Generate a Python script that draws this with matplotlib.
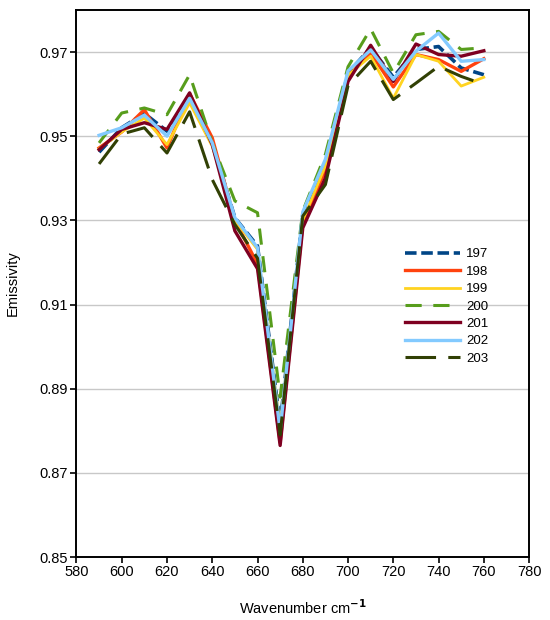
import matplotlib
matplotlib.use("Agg")
import matplotlib.pyplot as plt

plt.rcParams['font.family'] = ['Liberation Sans', 'DejaVu Sans']

# wavenumbers (cm-1)
wavenumber = [590, 600, 610, 620, 630, 640, 650, 660, 670,
              680, 690, 700, 710, 720, 730, 740, 750, 760]

# emissivity per sample
e197 = [0.9462, 0.9520, 0.9554, 0.9512, 0.9591, 0.9484, 0.9306, 0.9239, 0.8815,
        0.9314, 0.9429, 0.9650, 0.9710, 0.9640, 0.9706, 0.9713, 0.9662, 0.9646]
e198 = [0.9472, 0.9510, 0.9563, 0.9472, 0.9601, 0.9496, 0.9300, 0.9196, 0.8772,
        0.9294, 0.9420, 0.9642, 0.9698, 0.9617, 0.9694, 0.9682, 0.9654, 0.9684]
e199 = [0.9470, 0.9510, 0.9543, 0.9480, 0.9579, 0.9476, 0.9300, 0.9231, 0.8810,
        0.9300, 0.9430, 0.9645, 0.9690, 0.9590, 0.9694, 0.9678, 0.9619, 0.9640]
e200 = [0.9484, 0.9555, 0.9567, 0.9551, 0.9646, 0.9484, 0.9346, 0.9318, 0.8880,
        0.9322, 0.9457, 0.9665, 0.9755, 0.9650, 0.9741, 0.9749, 0.9706, 0.9710]
e201 = [0.9468, 0.9516, 0.9532, 0.9516, 0.9603, 0.9480, 0.9275, 0.9185, 0.8765,
        0.9282, 0.9401, 0.9630, 0.9716, 0.9630, 0.9719, 0.9694, 0.9690, 0.9703]
e202 = [0.9502, 0.9520, 0.9550, 0.9500, 0.9590, 0.9484, 0.9306, 0.9235, 0.8800,
        0.9320, 0.9445, 0.9655, 0.9705, 0.9635, 0.9702, 0.9745, 0.9678, 0.9682]
e203 = [0.9434, 0.9505, 0.9520, 0.9460, 0.9558, 0.9397, 0.9290, 0.9210, 0.8790,
        0.9310, 0.9385, 0.9620, 0.9678, 0.9587, 0.9626, 0.9666, 0.9642, 0.9623]

series = [
    ("197", e197, "#004586", (0, (3.2, 1.3)), 2.6),
    ("198", e198, "#ff420e", "-", 2.4),
    ("199", e199, "#ffd320", "-", 2.0),
    ("200", e200, "#579d1c", (0, (5.3, 3.8)), 2.2),
    ("201", e201, "#7e0021", "-", 2.4),
    ("202", e202, "#83caff", "-", 2.4),
    ("203", e203, "#314004", (0, (10, 4)), 2.2),
]

fig = plt.figure(figsize=(5.5, 6.2), dpi=100)
ax = fig.add_axes([0.139, 0.1016, 0.823, 0.8824])

for name, vals, col, ls, lw in series:
    ax.plot(wavenumber, vals, color=col, linestyle=ls, linewidth=lw, label=name)

ax.set_xlim(580, 780)
ax.set_ylim(0.85, 0.98)
ax.set_xticks(range(580, 781, 20))
ax.set_yticks([0.85, 0.87, 0.89, 0.91, 0.93, 0.95, 0.97])
ax.set_yticklabels(["0.85", "0.87", "0.89", "0.91", "0.93", "0.95", "0.97"])
ax.tick_params(labelsize=10.5, length=4, width=1.2, color="black", pad=2)
ax.yaxis.grid(True, color="#c8c8c8", linewidth=1)
ax.set_axisbelow(True)
for sp in ax.spines.values():
    sp.set_linewidth(1.4)

ax.set_xlabel("Wavenumber cm$^{\\mathbf{-1}}$", fontsize=10.5, labelpad=14)
ax.set_ylabel("Emissivity", fontsize=10.5, labelpad=14)

leg = ax.legend(loc="upper left", bbox_to_anchor=(0.715, 0.574), frameon=False,
                fontsize=9.5, handlelength=4.17, handletextpad=0.42,
                labelspacing=0.39, borderaxespad=0)

fig.savefig("out.png", dpi=100)
